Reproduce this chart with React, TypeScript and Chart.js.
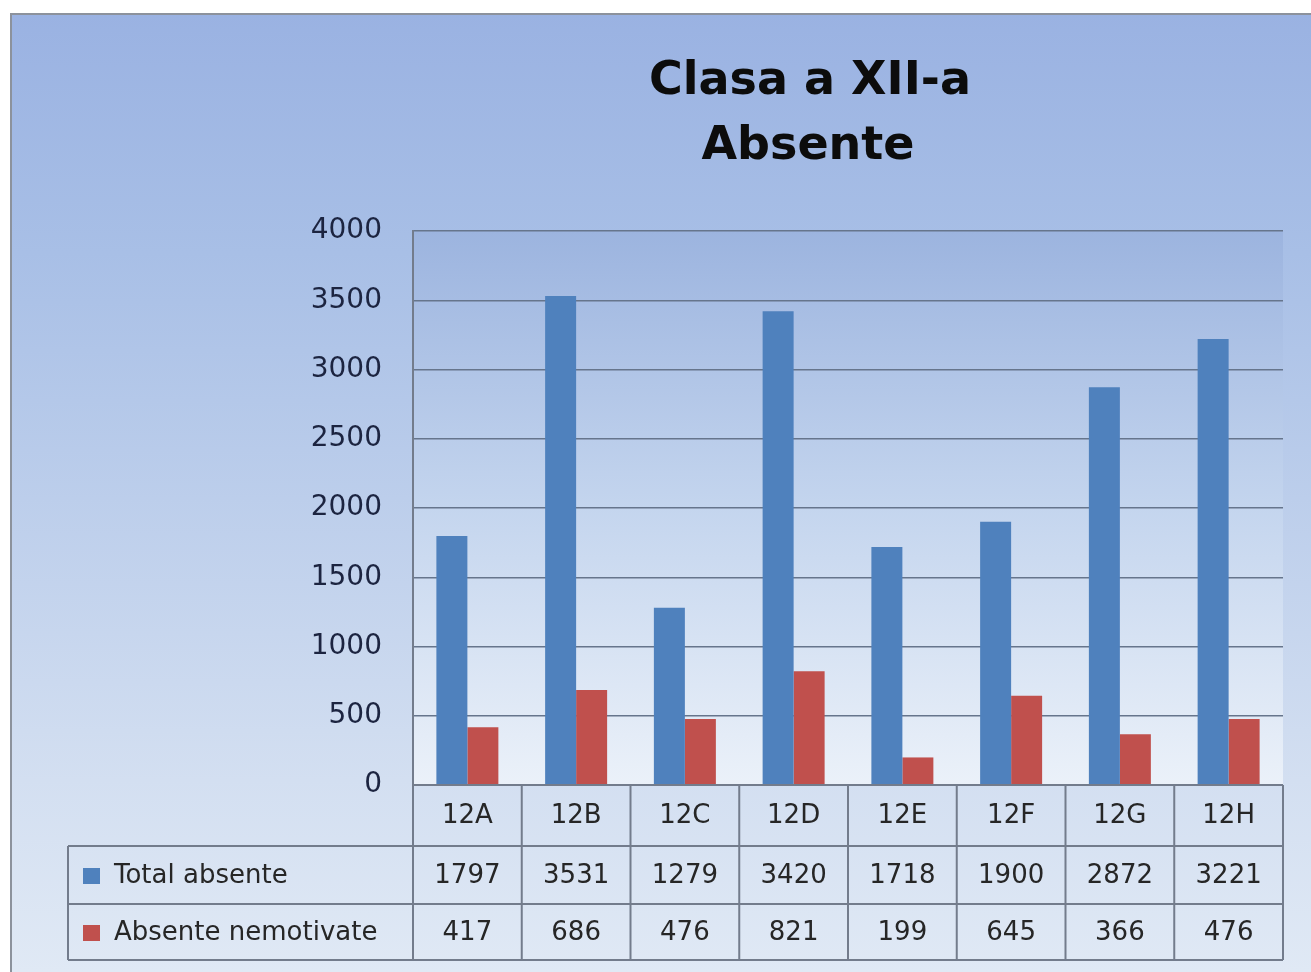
import React, { useEffect, useRef } from "react";
import { Chart, registerables } from "chart.js";

Chart.register(...registerables);

const categories = ["12A", "12B", "12C", "12D", "12E", "12F", "12G", "12H"];
const totalAbsente = [1797, 3531, 1279, 3420, 1718, 1900, 2872, 3221];
const absenteNemotivate = [417, 686, 476, 821, 199, 645, 366, 476];
const seriesNames = ["Total absente", "Absente nemotivate"];
const seriesColors = ["#4f81bd", "#c0504d"];
const titleLines = ["Clasa a XII-a", "Absente"];
const yMin = 0;
const yMax = 4000;
const yStep = 500;

const FONT = "'DejaVu Sans', Verdana, sans-serif";
const LINE = "#737c8c";

const backgroundPlugin = {
  id: "bgPlugin",
  beforeDraw(chart: any) {
    const { ctx, width, height, chartArea } = chart;
    ctx.save();
    ctx.fillStyle = "#ffffff";
    ctx.fillRect(0, 0, width, height);
    // outer frame gradient
    const g = ctx.createLinearGradient(0, 13, 0, height);
    g.addColorStop(0, "#9ab2e2");
    g.addColorStop(0.25, "#a8bfe6");
    g.addColorStop(0.8, "#d3dff1");
    g.addColorStop(1, "#e0e9f5");
    ctx.fillStyle = g;
    ctx.fillRect(10, 13, width, height);
    ctx.strokeStyle = "#8c929c";
    ctx.lineWidth = 2;
    ctx.beginPath();
    ctx.moveTo(11, height + 5);
    ctx.lineTo(11, 14);
    ctx.lineTo(width + 5, 14);
    ctx.stroke();
    // plot area gradient
    const pg = ctx.createLinearGradient(0, chartArea.top, 0, chartArea.bottom);
    pg.addColorStop(0, "#9cb4df");
    pg.addColorStop(0.5, "#c4d5ee");
    pg.addColorStop(1, "#ebf1f9");
    ctx.fillStyle = pg;
    ctx.fillRect(chartArea.left, chartArea.top, chartArea.right - chartArea.left, chartArea.bottom - chartArea.top);
    // title
    ctx.fillStyle = "#0c0c0c";
    ctx.font = "bold 46px " + FONT;
    ctx.textAlign = "center";
    ctx.textBaseline = "alphabetic";
    ctx.fillText(titleLines[0], 810, 94);
    ctx.fillText(titleLines[1], 808, 159);
    ctx.restore();
  },
};

const tablePlugin = {
  id: "dataTable",
  afterDraw(chart: any) {
    const { ctx, chartArea } = chart;
    const xs = chart.scales.x;
    const n = chart.data.labels.length;
    const w = (chartArea.right - chartArea.left) / n;
    const top = chartArea.bottom;
    const rowB = [top + 61, top + 119, top + 175];
    const legendLeft = 68;
    ctx.save();
    ctx.strokeStyle = LINE;
    ctx.lineWidth = 2;
    ctx.beginPath();
    ctx.moveTo(chartArea.left, top);
    ctx.lineTo(chartArea.right, top);
    for (const y of rowB) {
      ctx.moveTo(legendLeft, y);
      ctx.lineTo(chartArea.right, y);
    }
    for (let k = 0; k <= n; k++) {
      const x = chartArea.left + k * w;
      ctx.moveTo(x, top);
      ctx.lineTo(x, rowB[2]);
    }
    ctx.moveTo(legendLeft, rowB[0]);
    ctx.lineTo(legendLeft, rowB[2]);
    ctx.stroke();

    ctx.font = "26px " + FONT;
    ctx.fillStyle = "#262626";
    ctx.textAlign = "center";
    ctx.textBaseline = "middle";
    const rowC = [(top + rowB[0]) / 2 + 1, (rowB[0] + rowB[1]) / 2 + 1, (rowB[1] + rowB[2]) / 2 + 1];
    chart.data.labels.forEach((lab: string, i: number) => {
      const cx = xs.getPixelForValue(i);
      ctx.fillText(lab, cx, rowC[0]);
      chart.data.datasets.forEach((ds: any, j: number) => {
        ctx.fillText(String(ds.data[i]), cx, rowC[j + 1]);
      });
    });
    ctx.textAlign = "left";
    chart.data.datasets.forEach((ds: any, j: number) => {
      const cy = rowC[j + 1];
      ctx.fillStyle = ds.backgroundColor;
      ctx.fillRect(83, cy - 8, 17, 16);
      ctx.fillStyle = "#262626";
      ctx.fillText(ds.label, 114, cy);
    });
    ctx.restore();
  },
};

export default function App() {
  const ref = useRef<HTMLCanvasElement>(null);
  useEffect(() => {
    if (!ref.current) return;
    const chart = new Chart(ref.current, {
      type: "bar",
      data: {
        labels: categories,
        datasets: [
          { label: seriesNames[0], data: totalAbsente, backgroundColor: seriesColors[0] },
          { label: seriesNames[1], data: absenteNemotivate, backgroundColor: seriesColors[1] },
        ],
      },
      options: {
        responsive: false,
        animation: false,
        layout: { padding: { top: 231, right: 28, bottom: 187, left: 0 } },
        datasets: { bar: { categoryPercentage: 0.57, barPercentage: 1.0 } },
        plugins: {
          legend: { display: false },
          title: { display: false },
          tooltip: { enabled: false },
        },
        scales: {
          x: { display: false, offset: true },
          y: {
            min: yMin,
            max: yMax,
            afterFit: (s: any) => {
              s.width = 413;
            },
            ticks: {
              stepSize: yStep,
              padding: 31,
              color: "#1c2440",
              font: { family: FONT, size: 28 },
              callback: (v: any) => String(v),
            },
            grid: { color: "#66758c", lineWidth: 1.5, drawTicks: false },
            border: { display: true, color: LINE, width: 2 },
          },
        },
      } as any,
      plugins: [backgroundPlugin, tablePlugin],
    });
    return () => chart.destroy();
  }, []);
  return (
    <div style={{ position: "absolute", left: 0, top: 0, width: 1311, height: 972 }}>
      <canvas ref={ref} width={1311} height={972} style={{ display: "block" }} />
    </div>
  );
}
